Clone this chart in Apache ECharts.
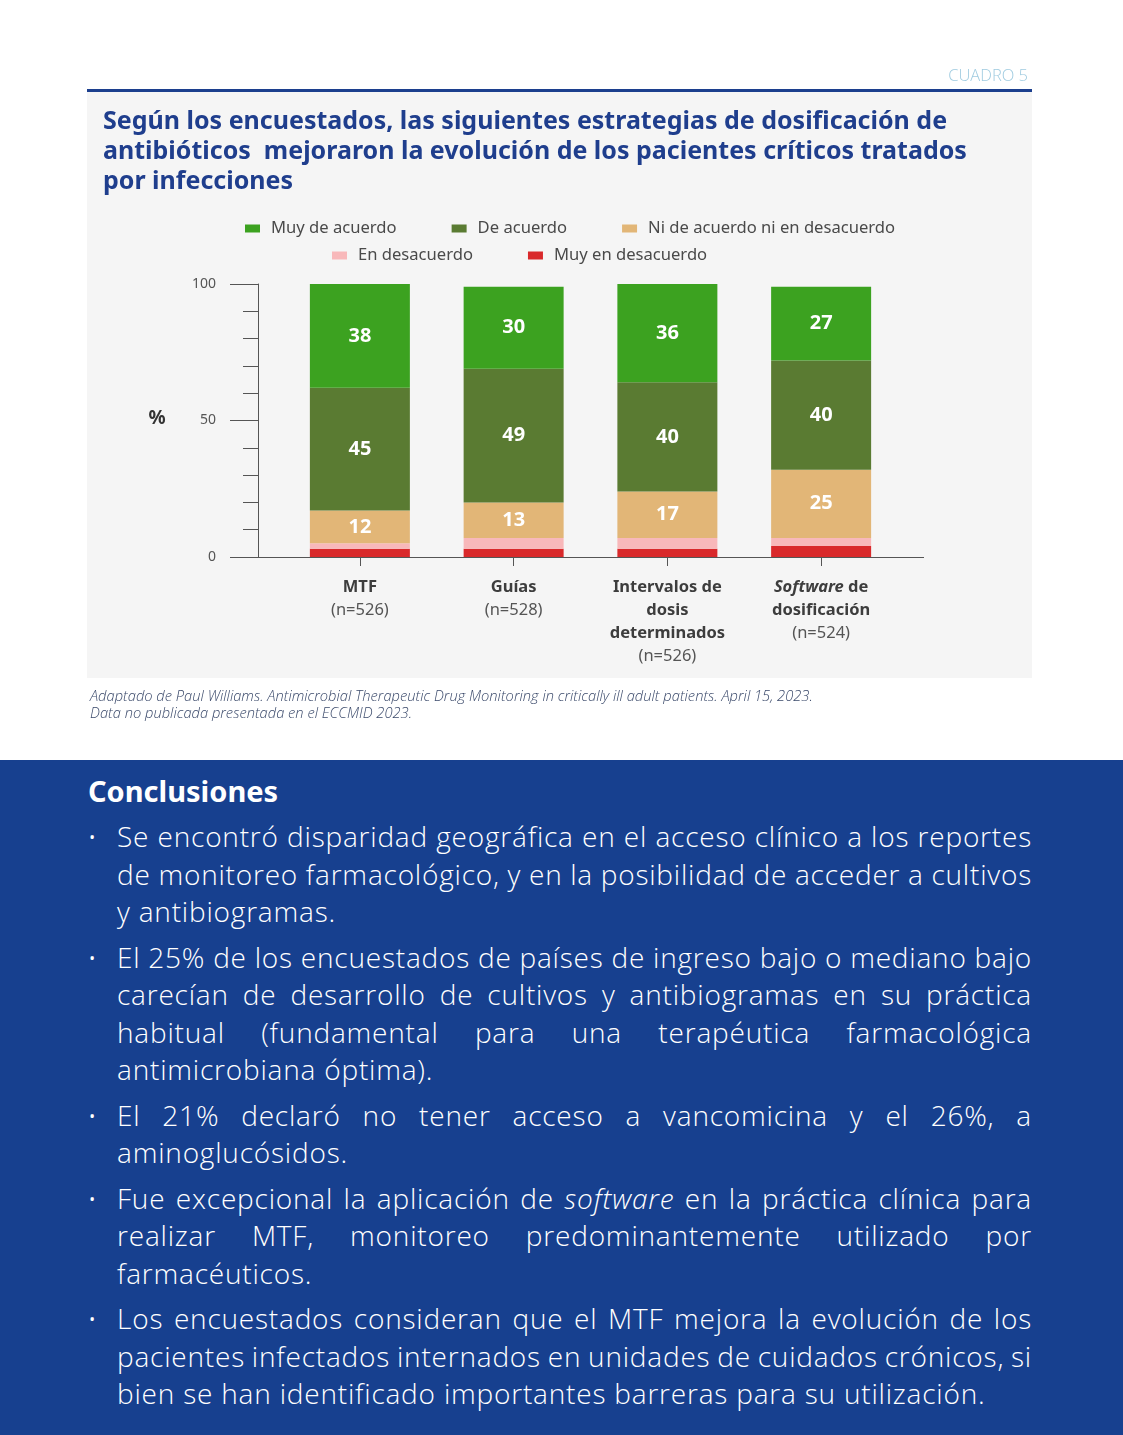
<!DOCTYPE html>
<html>
<head>
<meta charset="utf-8">
<script src="https://cdn.jsdelivr.net/npm/echarts@6/dist/echarts.min.js"></script>
<style>
  html, body { margin: 0; padding: 0; background: #ffffff; }
  #page { position: relative; width: 1123px; height: 1435px; overflow: hidden; background: #fff; }
  #chart { position: absolute; left: 0; top: 0; width: 1123px; height: 760px; }
  #concl { position: absolute; left: 0; top: 760px; width: 1123px; height: 675px; background: #17408f; color: #fff;
           font-family: "Open Sans", "Noto Sans", sans-serif; box-sizing: border-box; padding: 14px 91px 0 88px; }
  #concl h2 { margin: 0; font-size: 29px; line-height: 34px; font-weight: 700; font-family: "Noto Sans", "Open Sans", sans-serif; }
  #concl ul { list-style: none; margin: 10px 0 0 0; padding: 0; }
  #concl li { position: relative; padding-left: 29px; margin-bottom: 8px; font-size: 28px; line-height: 37.5px; font-weight: 300; letter-spacing: 0.8px; }
  #concl li::before { content: "•"; position: absolute; left: 0; top: 0; font-size: 22px; line-height: 37.5px; }
  #concl .ln { display: block; white-space: nowrap; text-align: justify; text-align-last: justify; word-spacing: -5px; }
  #concl .ln.last { text-align-last: left; word-spacing: 0; }
</style>
</head>
<body>
<div id="page">
  <div id="chart"></div>
  <div id="concl">
    <h2>Conclusiones</h2>
    <ul>
      <li><span class="ln">Se encontró disparidad geográfica en el acceso clínico a los reportes</span><span class="ln">de monitoreo farmacológico, y en la posibilidad de acceder a cultivos</span><span class="ln last">y antibiogramas.</span></li>
      <li><span class="ln">El 25% de los encuestados de países de ingreso bajo o mediano bajo</span><span class="ln">carecían de desarrollo de cultivos y antibiogramas en su práctica</span><span class="ln">habitual (fundamental para una terapéutica farmacológica</span><span class="ln last">antimicrobiana óptima).</span></li>
      <li><span class="ln">El 21% declaró no tener acceso a vancomicina y el 26%, a</span><span class="ln last">aminoglucósidos.</span></li>
      <li><span class="ln">Fue excepcional la aplicación de <i>software</i> en la práctica clínica para</span><span class="ln">realizar MTF, monitoreo predominantemente utilizado por</span><span class="ln last">farmacéuticos.</span></li>
      <li><span class="ln">Los encuestados consideran que el MTF mejora la evolución de los</span><span class="ln">pacientes infectados internados en unidades de cuidados crónicos, si</span><span class="ln last">bien se han identificado importantes barreras para su utilización.</span></li>
    </ul>
  </div>
</div>
<script>
// ---- data ----
const categories = ['MTF', 'Guías', 'Intervalos de\ndosis\ndeterminados', 'Software de\ndosificación'];
const sampleSizes = [526, 528, 526, 524];
const seriesNames = ['Muy de acuerdo', 'De acuerdo', 'Ni de acuerdo ni en desacuerdo', 'En desacuerdo', 'Muy en desacuerdo'];
const muyDeAcuerdo = [38, 30, 36, 27];
const deAcuerdo = [45, 49, 40, 40];
const niDeAcuerdo = [12, 13, 17, 25];
const enDesacuerdo = [2, 4, 4, 3];
const muyEnDesacuerdo = [3, 3, 3, 4];
const yTicks = [0, 50, 100];

const colors = {
  'Muy de acuerdo': '#3ca220',
  'De acuerdo': '#5a7b32',
  'Ni de acuerdo ni en desacuerdo': '#e2b677',
  'En desacuerdo': '#f8b8ba',
  'Muy en desacuerdo': '#d9292b'
};

const chart = echarts.init(document.getElementById('chart'), null, { renderer: 'canvas' });

function catLabel(value, idx) {
  const lines = value.split('\n').map(l => {
    if (l.indexOf('Software') === 0) return '{bi|Software}{b|' + l.slice(8) + '}';
    return '{b|' + l + '}';
  });
  lines.push('{n|(n=' + sampleSizes[idx] + ')}');
  return lines.join('\n');
}

const valueLabel = {
  show: true, position: 'inside', color: '#ffffff', fontSize: 20, fontWeight: 'bold',
  fontFamily: 'Noto Sans'
};

function bar(name, data, withLabel) {
  return {
    name: name, type: 'bar', stack: 'total', data: data, barWidth: 100,
    itemStyle: { color: colors[name] },
    label: withLabel ? valueLabel : { show: false },
    emphasis: { disabled: true }
  };
}

const legendCommon = {
  orient: 'horizontal', icon: 'rect', itemWidth: 15, itemHeight: 8, itemGap: 55, padding: 0,
  textStyle: { fontSize: 16.6, color: '#4a4a4a', fontFamily: 'Noto Sans', padding: [0, 0, 0, 6] },
  selectedMode: false
};

chart.setOption({
  animation: false,
  backgroundColor: 'transparent',
  textStyle: { fontFamily: 'Noto Sans' },
  grid: { left: 283, right: 225, top: 284, bottom: 203, containLabel: false },
  legend: [
    Object.assign({}, legendCommon, { left: 245, top: 220, data: seriesNames.slice(0, 3) }),
    Object.assign({}, legendCommon, { left: 332, top: 247, data: seriesNames.slice(3) })
  ],
  xAxis: {
    type: 'category', data: categories,
    axisLine: { show: false },
    axisTick: { show: true, alignWithLabel: true, length: 9, lineStyle: { color: '#555' } },
    axisLabel: {
      margin: 19, interval: 0, formatter: catLabel,
      rich: {
        b: { fontSize: 16.5, fontWeight: 'bold', color: '#3d3d3d', lineHeight: 23, fontFamily: 'Noto Sans' },
        bi: { fontSize: 16.5, fontWeight: 'bold', fontStyle: 'italic', color: '#3d3d3d', lineHeight: 23, fontFamily: 'Noto Sans' },
        n: { fontSize: 16.5, color: '#555', lineHeight: 23, fontFamily: 'Noto Sans' }
      }
    }
  },
  yAxis: {
    type: 'value', min: yTicks[0], max: yTicks[yTicks.length - 1], interval: yTicks[1] - yTicks[0],
    offset: 25,
    axisLine: { show: true, lineStyle: { color: '#555' } },
    axisTick: { show: true, length: 28, lineStyle: { color: '#555' } },
    minorTick: { show: true, splitNumber: 5, length: 15, lineStyle: { color: '#555' } },
    splitLine: { show: false },
    axisLabel: { margin: 42, fontSize: 14, color: '#555', fontFamily: 'Noto Sans' }
  },
  series: [
    bar('Muy en desacuerdo', muyEnDesacuerdo, false),
    bar('En desacuerdo', enDesacuerdo, false),
    bar('Ni de acuerdo ni en desacuerdo', niDeAcuerdo, true),
    bar('De acuerdo', deAcuerdo, true),
    bar('Muy de acuerdo', muyDeAcuerdo, true)
  ],
  graphic: [
    { type: 'rect', z: -100, shape: { x: 87, y: 92, width: 945, height: 586 }, style: { fill: '#f5f5f5' } },
    { type: 'rect', z: -90, shape: { x: 87, y: 89, width: 945, height: 3 }, style: { fill: '#1c3f8e' } },
    { type: 'text', x: 1028, y: 76, style: { text: 'CUADRO 5', fill: '#9fcbe0', font: '300 16.5px "Open Sans"', textAlign: 'right', textVerticalAlign: 'middle' } },
    { type: 'text', x: 103, y: 107, style: {
        text: 'Según los encuestados, las siguientes estrategias de dosificación de\nantibióticos  mejoraron la evolución de los pacientes críticos tratados\npor infecciones',
        fill: '#1f3e8d', font: 'bold 25px "Noto Sans"', lineHeight: 30, textAlign: 'left', textVerticalAlign: 'top' } },
    { type: 'text', x: 157, y: 419, style: { text: '%', fill: '#333', font: 'bold 19px "Noto Sans"', textAlign: 'center', textVerticalAlign: 'middle' } },
    { type: 'line', z: 5, shape: { x1: 230, y1: 557.5, x2: 924, y2: 557.5 }, style: { stroke: '#555', lineWidth: 1 } },
    { type: 'text', x: 90, y: 688, style: {
        text: 'Adaptado de Paul Williams. Antimicrobial Therapeutic Drug Monitoring in critically ill adult patients. April 15, 2023.\nData no publicada presentada en el ECCMID 2023.',
        fill: '#3b4a6b', font: 'italic 300 14.7px "Open Sans"', lineHeight: 17, textAlign: 'left', textVerticalAlign: 'top' } }
  ]
});
</script>
</body>
</html>
